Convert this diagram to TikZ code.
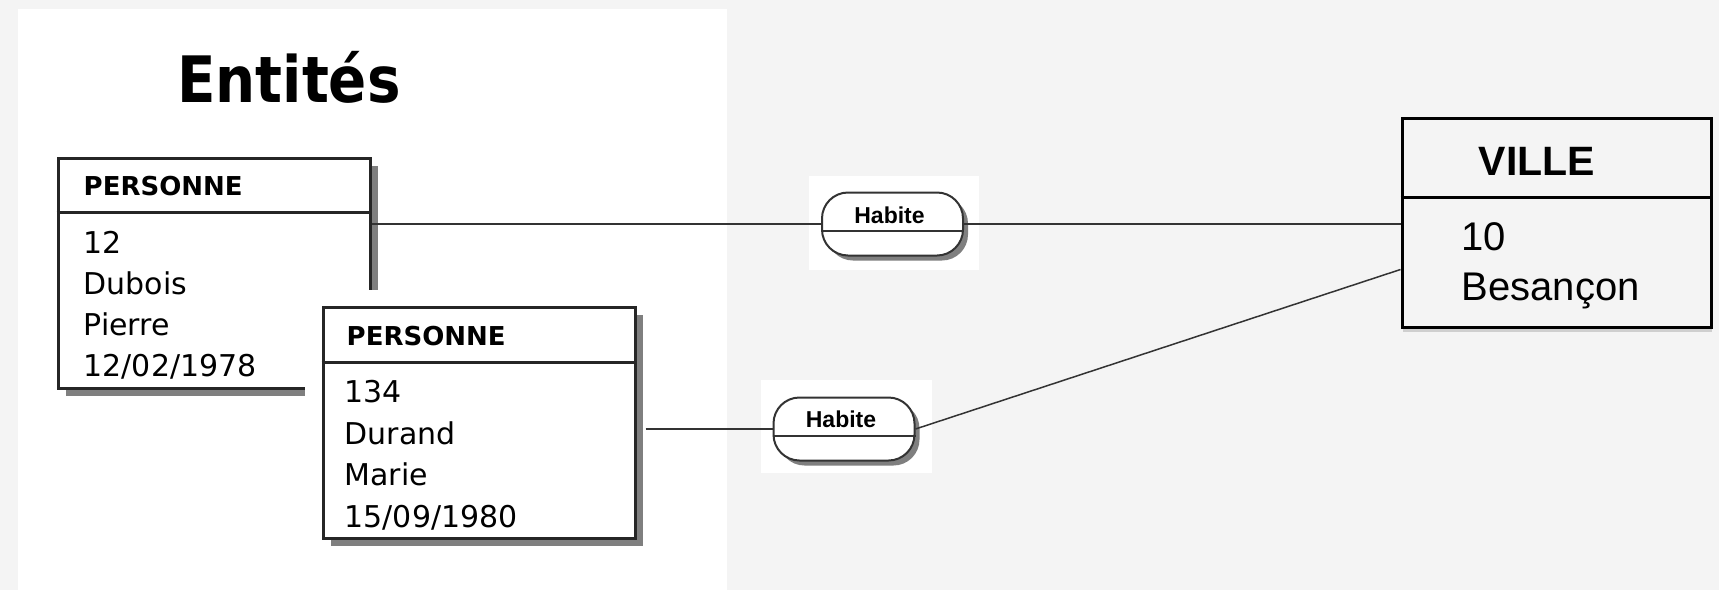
\documentclass[tikz,border=0pt]{standalone}
\usepackage{fontspec}
\setmainfont{DejaVu Sans}
\newfontfamily\arialfont{Liberation Sans}
\newfontfamily\titlefont[FakeStretch=0.88]{DejaVu Sans}
\usetikzlibrary{calc,shadows}

\definecolor{pagebg}{HTML}{F4F4F4}
\definecolor{shadowgray}{HTML}{7F7F7F}
\definecolor{linegray}{HTML}{333333}

\tikzset{
  entbox/.style={draw=black!85, line width=3pt, fill=white, inner sep=0pt,
    drop shadow={shadow xshift=8pt, shadow yshift=-8pt, fill=shadowgray, opacity=1}},
  enthead/.style={anchor=base west, inner sep=0pt, font=\bfseries\fontsize{26}{30}\selectfont},
  entattr/.style={anchor=base west, inner sep=0pt, font=\fontsize{30}{36}\selectfont},
  assoc/.style={draw=black!80, line width=2pt, fill=white, rounded corners=26pt,
    minimum width=141pt, minimum height=63pt, inner sep=0pt,
    drop shadow={shadow xshift=5pt, shadow yshift=-5pt, fill=shadowgray, opacity=1}},
  assoctext/.style={anchor=base, inner sep=0pt, font=\arialfont\bfseries\fontsize{23}{26}\selectfont},
  villebox/.style={draw=black, line width=3pt, fill=pagebg, inner sep=0pt,
    drop shadow={shadow xshift=1pt, shadow yshift=-5pt, fill=black, opacity=0.15}},
  link/.style={draw=linegray, line width=1.5pt},
}

\begin{document}
\begin{tikzpicture}[x=1pt, y=-1pt]

% Background and white panel
\fill[pagebg] (0,0) rectangle (1719,590);
\useasboundingbox (0,0) rectangle (1719,590);
\fill[white] (18,9) rectangle (727,590);

% Title
\node[anchor=base west, inner sep=0pt, font=\titlefont\bfseries\fontsize{64}{70}\selectfont]
  (titre) at (177,102) {Entités};

% First PERSONNE
\node[entbox, minimum width=312pt, minimum height=230pt] (p1) at (214,273) {};
\draw[black!85, line width=2.5pt] ($(p1.north west)+(0,56)$) -- ($(p1.north east)+(0,56)$);
\node[enthead] (p1h) at ($(p1.north west)+(27,39)$) {PERSONNE};
\foreach \t [count=\i from 0] in {12,Dubois,Pierre,12/02/1978}
  \node[entattr] (p1l\i) at ($(p1.north west)+(27,97+41*\i)$) {\t};

% White margin round the second one
\fill[white] (305,290) rectangle (640,555);

% Second PERSONNE
\node[entbox, minimum width=312pt, minimum height=231pt] (p2) at (479,422.5) {};
\draw[black!85, line width=2.5pt] ($(p2.north west)+(0,57)$) -- ($(p2.north east)+(0,57)$);
\node[enthead] (p2h) at ($(p2.north west)+(25,40)$) {PERSONNE};
\foreach \t [count=\i from 0] in {134,Durand,Marie,15/09/1980}
  \node[entattr] (p2l\i) at ($(p2.north west)+(23,97+41.5*\i)$) {\t};

% Habite pads
\fill[white] (809,176) rectangle (979,270);
\fill[white] (761,380) rectangle (932,473);

% Habite associations
\node[assoc] (h1) at (892.5,224) {};
\draw[black!80, line width=2pt] ($(h1.west)+(0,7)$) -- ($(h1.east)+(0,7)$);
\node[assoctext] (h1t) at ($(h1.center)+(-3,-1)$) {Habite};

\node[assoc] (h2) at (844,429) {};
\draw[black!80, line width=2pt] ($(h2.west)+(0,7)$) -- ($(h2.east)+(0,7)$);
\node[assoctext] (h2t) at ($(h2.center)+(-3,-2)$) {Habite};

% VILLE
\node[villebox, minimum width=309pt, minimum height=209pt] (v) at (1556.5,222.5) {};
\draw[black, line width=2.5pt] ($(v.north west)+(0,81)$) -- ($(v.north east)+(0,81)$);
\node[anchor=base west, inner sep=0pt, font=\arialfont\bfseries\fontsize{41}{46}\selectfont]
  (vh) at ($(v.north west)+(78,59)$) {VILLE};
\node[anchor=base west, inner sep=0pt, font=\arialfont\fontsize{40}{46}\selectfont]
  (vl0) at ($(v.north west)+(61,134)$) {10};
\node[anchor=base west, inner sep=0pt, font=\arialfont\fontsize{40}{46}\selectfont]
  (vl1) at ($(v.north west)+(61,184)$) {Besançon};

% Links
\coordinate (p2out) at ([xshift=9pt]p2.east);
\coordinate (vin) at ([yshift=-47pt]v.west);
\draw[link] (p1.east |- h1.west) -- (h1.west);
\draw[link] (h1.east) -- (v.west |- h1.east);
\draw[link] (p2out |- h2.west) -- (h2.west);
\draw[link] (h2.east) -- (vin);

\end{tikzpicture}
\end{document}
